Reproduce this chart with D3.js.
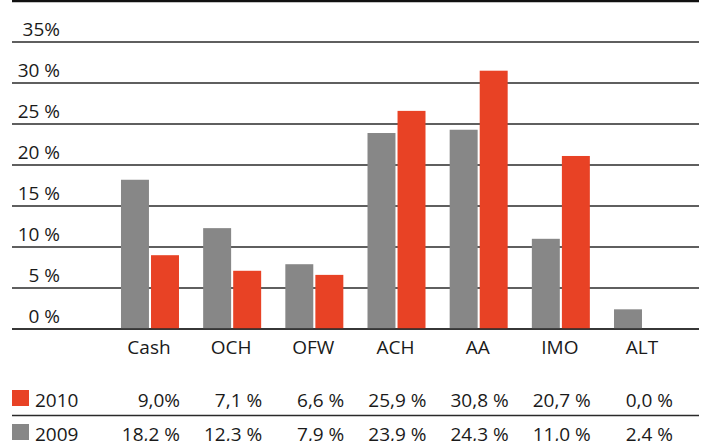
<!DOCTYPE html>
<html><head><meta charset="utf-8">
<script src="https://cdn.jsdelivr.net/npm/d3@7/dist/d3.min.js"></script>
<style>
html,body{margin:0;padding:0;background:#fff;}
svg{display:block;}
text{font-family:"Open Sans","Noto Sans",sans-serif;fill:#1a1a1a;}
</style></head><body>
<svg id="c" width="704" height="441"></svg>
<script>
const categories = ["Cash","OCH","OFW","ACH","AA","IMO","ALT"];
// bar heights as drawn in the picture
const values2010 = [9.0, 7.1, 6.6, 26.6, 31.5, 21.1, 0.0];
const values2009 = [18.2, 12.3, 7.9, 23.9, 24.3, 11.0, 2.4];
// table texts
const labels2010 = ["9,0%","7,1 %","6,6 %","25,9 %","30,8 %","20,7 %","0,0 %"];
const labels2009 = ["18,2 %","12,3 %","7,9 %","23,9 %","24,3 %","11,0 %","2,4 %"];
const yTicks = [0,5,10,15,20,25,30,35];
const yTickLabels = ["0 %","5 %","10 %","15 %","20 %","25 %","30 %","35%"];
const seriesNames = ["2009","2010"];
const colors = {"2009":"#878787","2010":"#e84225"};

const svg = d3.select("#c");
const y = d3.scaleLinear().domain([0,35]).range([329,42]);
const x = d3.scaleBand().domain(categories).range([108.9,684.1]).padding(0);
const xs = d3.scaleBand().domain(seriesNames).range([-29,29]).paddingInner(4/58);

// top rule
svg.append("line").attr("x1",12).attr("x2",699).attr("y1",1).attr("y2",1)
  .attr("stroke","#111").attr("stroke-width",2.5);

// grid
svg.append("g").selectAll("line").data(yTicks).join("line")
  .attr("x1",12).attr("x2",699)
  .attr("y1",d=>y(d)).attr("y2",d=>y(d))
  .attr("stroke","#2a2a2a").attr("stroke-width",1.4);

svg.append("g").selectAll("text").data(yTicks).join("text")
  .attr("x",60).attr("y",d=>y(d)-6).attr("text-anchor","end")
  .attr("font-size",19).text((d,i)=>yTickLabels[i]);

// bars
const data = [];
categories.forEach((c,i)=>{
  data.push({c, s:"2009", v:values2009[i]});
  data.push({c, s:"2010", v:values2010[i]});
});
svg.append("g").selectAll("rect").data(data.filter(d=>d.v>0)).join("rect")
  .attr("x",d=>x(d.c)+x.bandwidth()/2+xs(d.s))
  .attr("width",xs.bandwidth())
  .attr("y",d=>y(d.v))
  .attr("height",d=>y(0)-y(d.v))
  .attr("fill",d=>colors[d.s]);

// baseline on top
svg.append("line").attr("x1",12).attr("x2",699).attr("y1",y(0)).attr("y2",y(0))
  .attr("stroke","#2a2a2a").attr("stroke-width",1.4);

// category labels
svg.append("g").selectAll("text").data(categories).join("text")
  .attr("x",d=>x(d)+x.bandwidth()/2 - 1).attr("y",354)
  .attr("text-anchor","middle").attr("font-size",19).text(d=>d);

// table
const rows = [
  {name:"2010", labels:labels2010, y:407},
  {name:"2009", labels:labels2009, y:441}
];
rows.forEach(r=>{
  svg.append("rect").attr("x",12).attr("y",r.y-17).attr("width",17).attr("height",16)
    .attr("fill",colors[r.name]);
  svg.append("text").attr("x",35).attr("y",r.y).attr("font-size",19).text(r.name);
  svg.append("g").selectAll("text").data(r.labels).join("text")
    .attr("x",(d,i)=>x(categories[i])+x.bandwidth()/2+30)
    .attr("y",r.y).attr("text-anchor","end").attr("font-size",19).text(d=>d);
});
svg.append("line").attr("x1",12).attr("x2",699).attr("y1",415.5).attr("y2",415.5)
  .attr("stroke","#2a2a2a").attr("stroke-width",1.4);
</script>
</body></html>
